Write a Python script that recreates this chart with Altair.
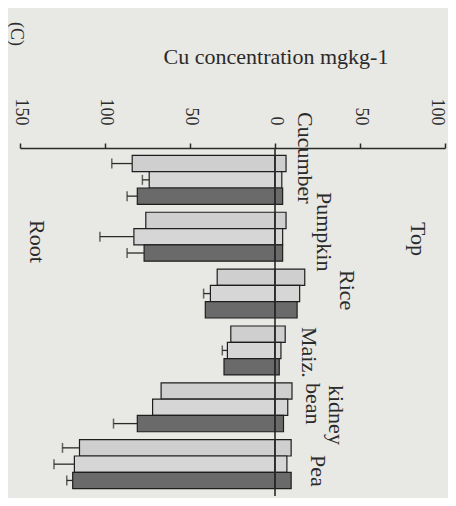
import altair as alt
import pandas as pd

crops = ["Cucumber", "Pumpkin", "Rice", "Maiz.", "kidney bean", "Pea"]
series = ["T1", "T2", "T3"]
root = [
    [84, 74, 81],
    [76, 83, 77],
    [34, 38, 41],
    [26, 28, 30],
    [67, 72, 81],
    [115, 118, 119],
]
top = [
    [6.5, 4, 4.5],
    [6.5, 4.5, 4.5],
    [17.5, 14.5, 13],
    [6, 3.5, 2.5],
    [10, 7.5, 5],
    [9.5, 7, 9.5],
]
root_err = [
    [12, 4, 6],
    [0, 20, 10],
    [0, 4, 0],
    [0, 3, 0],
    [0, 0, 14],
    [10, 12, 3.5],
]
tick_values = [-150, -100, -50, 0, 50, 100]

rows = []
for i, c in enumerate(crops):
    for j, s in enumerate(series):
        rows.append({
            "crop": c, "series": s,
            "root_neg": -root[i][j], "top": top[i][j], "zero": 0,
            "err_end": -(root[i][j] + root_err[i][j]), "err": root_err[i][j],
        })
df = pd.DataFrame(rows)

W, H = 425, 348
FONT = "Liberation Serif"
INK = "#2a2a2a"

xscale = alt.Scale(domain=[-150, 100], nice=False, zero=False)
yenc = alt.Y("crop:N", sort=crops, axis=None,
             scale=alt.Scale(paddingInner=0.14, paddingOuter=0.13))
yoff = alt.YOffset("series:N", sort=series,
                   scale=alt.Scale(paddingInner=0, paddingOuter=0))
fill = alt.Color("series:N", sort=series, legend=None,
                 scale=alt.Scale(domain=series, range=["#cfcfcf", "#d6d6d6", "#6a6a6a"]))

base = alt.Chart(df)

root_bars = base.mark_bar(stroke="#1e1e1e", strokeWidth=1.2).encode(
    x=alt.X("root_neg:Q", scale=xscale, axis=alt.Axis(
        orient="top", values=tick_values, labelExpr="abs(datum.value)",
        labelAngle=90, labelAlign="right", labelBaseline="middle",
        labelOffset={"condition": {"test": "datum.value == 100", "value": -9}, "value": 0},
        labelPadding=18, tickSize=5, grid=False, title=None,
        labelFlush=False, labelOverlap=False,
        labelFont=FONT, labelFontSize=18, labelColor=INK,
        domainColor=INK, tickColor=INK, domainWidth=1.5, tickWidth=1.5)),
    x2="zero:Q", y=yenc, yOffset=yoff, color=fill)

top_bars = base.mark_bar(stroke="#1e1e1e", strokeWidth=1.2).encode(
    x=alt.X("zero:Q", scale=xscale), x2="top:Q", y=yenc, yOffset=yoff, color=fill)

errdf = base.transform_filter("datum.err > 0")
err_stem = errdf.mark_rule(color=INK, strokeWidth=1.3).encode(
    x=alt.X("err_end:Q", scale=xscale), x2="root_neg:Q", y=yenc, yOffset=yoff)
err_cap = errdf.mark_tick(color=INK, thickness=1.5, size=10, orient="vertical").encode(
    x=alt.X("err_end:Q", scale=xscale), y=yenc, yOffset=yoff)

zero_line = alt.Chart(pd.DataFrame({"z": [0]})).mark_rule(color=INK, strokeWidth=1.6).encode(
    x=alt.X("z:Q", scale=xscale), y=alt.value(0), y2=alt.value(H))

def vtext(txt, x, y, size=22):
    return alt.Chart(pd.DataFrame({"t": [txt]})).mark_text(
        angle=90, align="left", baseline="middle", font=FONT, fontSize=size, color=INK
    ).encode(text="t:N", x=alt.value(x), y=alt.value(y))

labels = [
    vtext("Cucumber", 285, -36),
    vtext("Pumpkin", 304, 44),
    vtext("Rice", 327, 122),
    vtext("Maiz.", 289, 179),
    vtext("kidney", 316, 237),
    vtext("bean", 293, 235),
    vtext("Pea", 298, 307),
    vtext("Top", 398, 74),
    vtext("Root", 17, 72),
    vtext("(C)", -4, -126, 18),
]

title = alt.Chart(pd.DataFrame({"t": ["Cu concentration mgkg-1"]})).mark_text(
    align="center", baseline="alphabetic", font=FONT, fontSize=22, color=INK
).encode(text="t:N", x=alt.value(256), y=alt.value(-84))

chart = alt.layer(root_bars, top_bars, err_stem, err_cap, zero_line, title, *labels).properties(
    width=W, height=H,
    autosize=alt.AutoSizeParams(type="none"),
    padding={"left": 12, "top": 140, "right": 3, "bottom": 2},
    background="#e8e8e5",
).configure_view(stroke=None)

chart.save("out.html", embed_options={"renderer": "svg", "actions": False})
